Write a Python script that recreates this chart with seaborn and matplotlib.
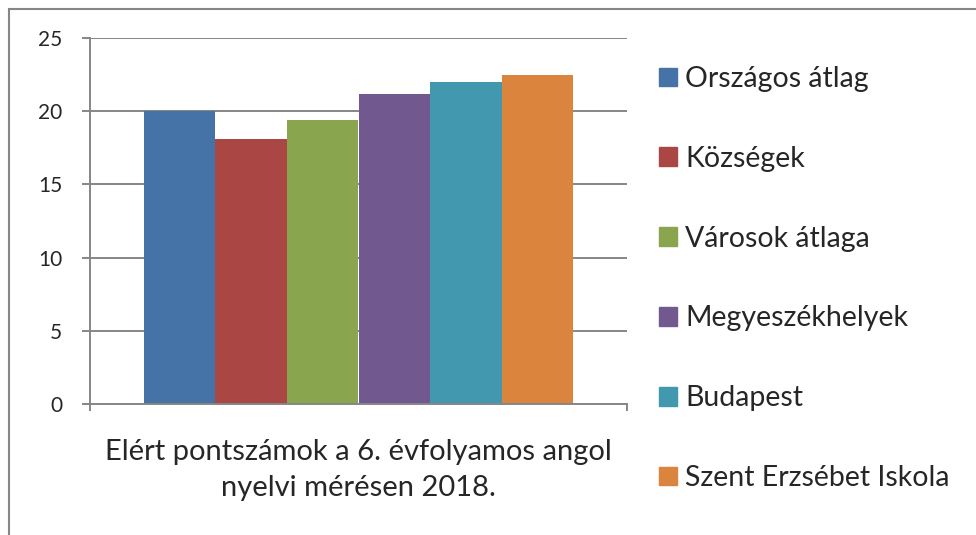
import pandas as pd
import matplotlib
matplotlib.use('Agg')
import matplotlib.pyplot as plt
import seaborn as sns
from matplotlib.patches import Rectangle

# chart data
series = ['Országos átlag', 'Községek', 'Városok átlaga',
          'Megyeszékhelyek', 'Budapest', 'Szent Erzsébet Iskola']
scores = [20.0, 18.1, 19.4, 21.2, 22.0, 22.5]
colors = ['#4572A7', '#AA4643', '#89A54E', '#71588F', '#4198AF', '#DB843D']
category = 'Elért pontszámok a 6. évfolyamos angol\nnyelvi mérésen 2018.'

df = pd.DataFrame({'cat': [category] * len(series), 'series': series, 'score': scores})

sns.set_style('white')
plt.rcParams['font.family'] = ['Lato', 'DejaVu Sans']

grid_col = '#868686'
W, H = 976, 535
fig = plt.figure(figsize=(W / 100, H / 100), dpi=100)
ax = fig.add_axes([90 / W, 1 - 404 / H, (627 - 90) / W, (404 - 38) / H])

sns.barplot(data=df, x='cat', y='score', hue='series', hue_order=series,
            palette=colors, width=0.8, gap=0, saturation=1, linewidth=0,
            legend=True, ax=ax)

ax.set_ylim(0, 25)
ax.set_xlim(-0.5, 0.5)
ax.set_yticks(range(0, 26, 5))
ax.yaxis.grid(True, color=grid_col, linewidth=1.4)
ax.set_axisbelow(True)
ax.tick_params(axis='y', which='major', direction='out', length=6, width=1.4,
               color=grid_col, labelsize=15, pad=14, left=True)
ax.set_xticks([])
ax.set_xticks([-0.5, 0.5], minor=True)
ax.tick_params(axis='x', which='minor', direction='out', length=5, width=1.4,
               color=grid_col, bottom=True)
ax.set_xlabel(category, fontsize=21, labelpad=17, linespacing=1.48)
ax.set_ylabel('')
for side in ['top', 'right']:
    ax.spines[side].set_visible(False)
for side in ['left', 'bottom']:
    ax.spines[side].set_color(grid_col)
    ax.spines[side].set_linewidth(1.4)

ax.get_legend().remove()
handles = [Rectangle((0, 0), 1, 1, color=c) for c in colors]
fig.legend(handles, series, loc='upper left', bbox_to_anchor=(659 / W, 1 - 66 / H),
           frameon=False, fontsize=20.5, handlelength=0.63, handleheight=0.63,
           handletextpad=0.28, labelspacing=1.89, borderpad=0, borderaxespad=0)

# outer chart frame
fig.patches.append(Rectangle((9 / W, -0.1), 1.2, (H - 9) / H + 0.1,
                             transform=fig.transFigure, fill=False,
                             edgecolor=grid_col, linewidth=1.5))

plt.savefig('out.png', dpi=100)
